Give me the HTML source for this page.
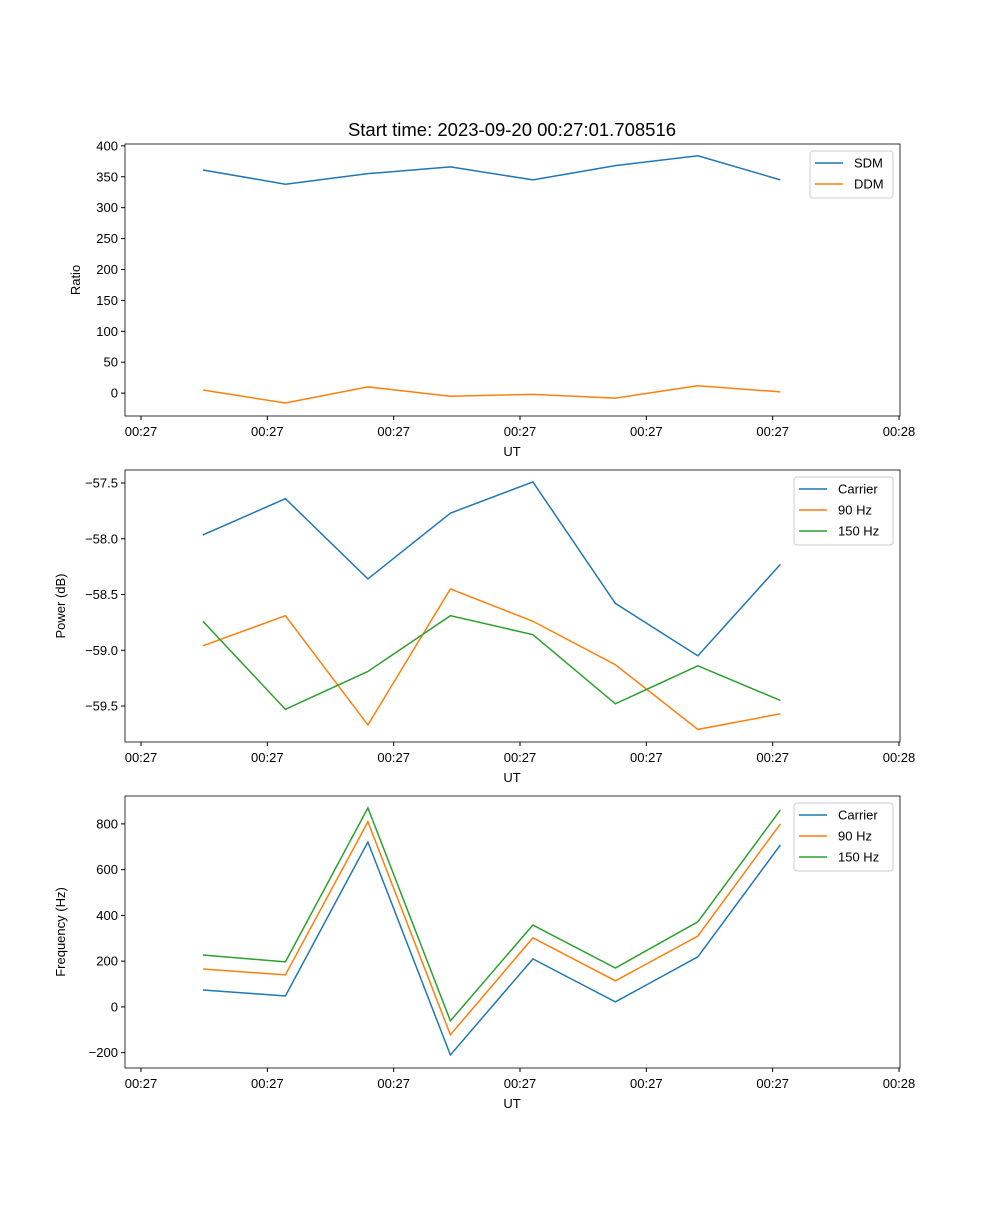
<!DOCTYPE html>
<html><head><meta charset="utf-8"><style>
body{margin:0;background:#fff}
svg text{font-family:"Liberation Sans","DejaVu Sans",sans-serif;font-size:13px;fill:#000}
</style></head><body>
<svg id="fig" width="1000" height="1200" xmlns="http://www.w3.org/2000/svg">
<text x="512" y="136" text-anchor="middle" style="font-size:18.5px">Start time: 2023-09-20 00:27:01.708516</text>
</svg>
<script>
const times = [4.9, 11.43, 17.96, 24.49, 31.02, 37.55, 44.08, 50.61];
const xTickVals = [0, 10, 20, 30, 40, 50, 60];
const xTickLabels = ["00:27","00:27","00:27","00:27","00:27","00:27","00:28"];
const sdm = [361, 338, 355, 366, 345, 368, 384, 345];
const ddm = [5, -16, 10, -5, -2, -8, 12, 2];
const pCarrier = [-57.966, -57.64, -58.36, -57.77, -57.49, -58.58, -59.05, -58.23];
const p90 = [-58.96, -58.69, -59.67, -58.45, -58.74, -59.13, -59.71, -59.57];
const p150 = [-58.74, -59.53, -59.19, -58.69, -58.86, -59.48, -59.14, -59.45];
const fCarrier = [74, 48, 721, -210, 210, 22, 219, 708];
const f90 = [166, 140, 809, -122, 302, 114, 310, 800];
const f150 = [227, 197, 870, -61, 358, 170, 372, 861];
const ratioTicks = [0, 50, 100, 150, 200, 250, 300, 350, 400];
const powerTicks = [-59.5, -59.0, -58.5, -58.0, -57.5];
const freqTicks = [-200, 0, 200, 400, 600, 800];

const NS="http://www.w3.org/2000/svg";
const svg=document.getElementById('fig');
const L=125,R=900;
function xs(t){return 141+(t-0)*(899-141)/60;}
function mk(tag,attrs,parent){const e=document.createElementNS(NS,tag);for(const k in attrs)e.setAttribute(k,attrs[k]);(parent||svg).appendChild(e);return e;}
function fmt(v,dec){return (v<0?'\u2212':'')+Math.abs(v).toFixed(dec);}
function panel(name,top,bot,ymin,ymax,yt,dec,ylabel,series,legend){
  const g=mk('g',{});
  
  
  const ys=v=>bot-(v-ymin)*(bot-top)/(ymax-ymin);
  yt.forEach(v=>{const y=ys(v);mk('line',{x1:L-4,x2:L,y1:y,y2:y,stroke:'#000'},g);
    const t=mk('text',{x:L-7,y:y+4.5,'text-anchor':'end'},g);t.textContent=fmt(v,dec);
    
    });
  xTickVals.forEach((v,i)=>{const x=xs(v);mk('line',{x1:x,x2:x,y1:bot,y2:bot+4,stroke:'#000'},g);
    const t=mk('text',{x:x,y:bot+20,'text-anchor':'middle'},g);t.textContent=xTickLabels[i];
    
    });
  const xl=mk('text',{x:512,y:bot+40,'text-anchor':'middle'},g);xl.textContent='UT';
  
  
  const yl=mk('text',{x:0,y:0,'text-anchor':'middle',transform:`translate(${name=='ratio'?80:65},${(top+bot)/2}) rotate(-90)`},g);yl.textContent=ylabel;
  
  
  series.forEach(s=>{const p=mk('polyline',{points:s.v.map((v,i)=>xs(times[i])+','+ys(v)).join(' '),fill:'none',stroke:s.c,'stroke-width':1.5},g);
    
    });
  mk('rect',{x:L,y:top,width:R-L,height:bot-top,fill:'none',stroke:'#000','stroke-width':0.8},g);
  const lg=mk('g',{},g);
  
  
  mk('rect',{x:legend.x,y:top+7,width:R-7-legend.x,height:series.length*21+5,rx:3,fill:'#fff',stroke:'#ccc'},lg);
  series.forEach((s,i)=>{const y=top+19+i*21;
    mk('line',{x1:legend.x+5,x2:legend.x+33,y1:y,y2:y,stroke:s.c,'stroke-width':1.5},lg);
    const t=mk('text',{x:legend.x+44,y:y+4.5},lg);t.textContent=s.n;
    
    });
}
const C1='#1f77b4',C2='#ff7f0e',C3='#2ca02c';
panel('ratio',144,416,-37,403,ratioTicks,0,'Ratio',[{n:'SDM',v:sdm,c:C1},{n:'DDM',v:ddm,c:C2}],{x:810});
panel('power',470,742,-59.823,-57.383,powerTicks,1,'Power (dB)',[{n:'Carrier',v:pCarrier,c:C1},{n:'90 Hz',v:p90,c:C2},{n:'150 Hz',v:p150,c:C3}],{x:794});
panel('frequency',796,1068,-267,922,freqTicks,0,'Frequency (Hz)',[{n:'Carrier',v:fCarrier,c:C1},{n:'90 Hz',v:f90,c:C2},{n:'150 Hz',v:f150,c:C3}],{x:794});
</script>
</body></html>
